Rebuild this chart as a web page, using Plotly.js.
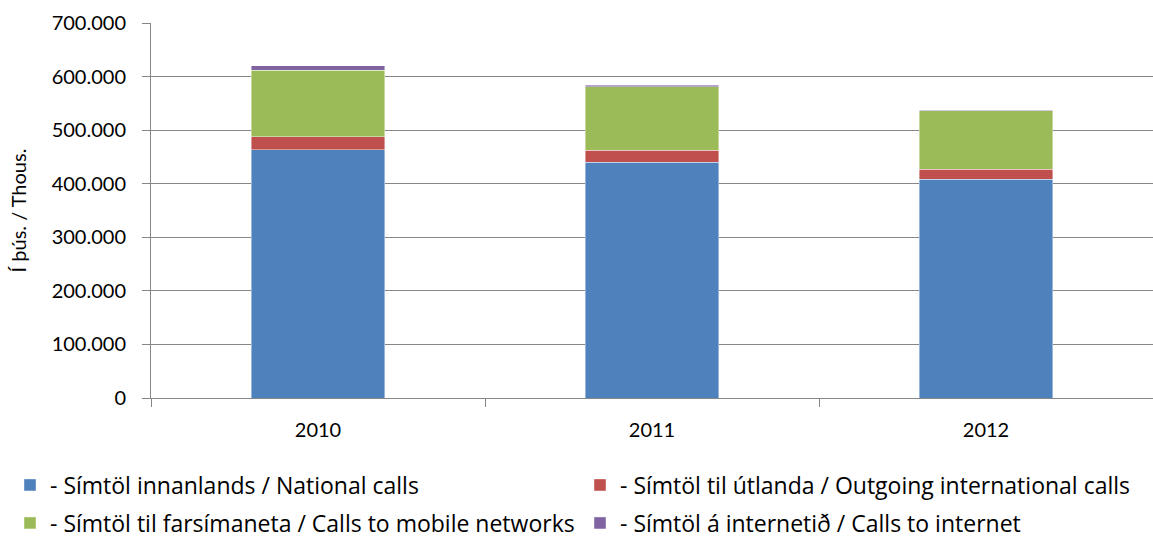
<!DOCTYPE html>
<html><head><meta charset="utf-8">
<script src="https://cdn.plot.ly/plotly-3.0.1.min.js"></script>
<style>body{margin:0;background:#fff}#c{width:1153px;height:541px}</style>
</head><body><div id="c"></div>
<script>
const years = ['2010', '2011', '2012'];
const national = [463500, 440000, 408000];
const international = [24500, 22500, 18800];
const mobile = [124000, 118500, 109500];
const internet = [8000, 2700, 1200];
const names = [
  '- Símtöl innanlands / National calls',
  '- Símtöl til útlanda / Outgoing international calls',
  '- Símtöl til farsímaneta / Calls to mobile networks',
  '- Símtöl á internetið / Calls to internet'
];
const colors = ['#4F81BD', '#C0504D', '#9BBB59', '#8064A2'];
const series = [national, international, mobile, internet];
const legends = ['legend', 'legend2', 'legend3', 'legend4'];
const FONT = 'Lato, "Open Sans", sans-serif';
const LFONT = '"Open Sans", Lato, sans-serif';

const data = series.map((vals, i) => ({
  type: 'bar', x: years, y: vals, name: names[i],
  marker: {color: colors[i], line: {color: 'rgba(255,255,255,0.6)', width: 0.7}},
  legend: legends[i], hoverinfo: 'y'
}));

function leg(xpx, ypx) {
  return {
    orientation: 'h', x: xpx / 1153, y: 1 - ypx / 541, xanchor: 'left', yanchor: 'middle',
    xref: 'container', yref: 'container',
    font: {family: LFONT, size: 23, color: '#000'},
    traceorder: 'normal', bgcolor: 'rgba(0,0,0,0)', itemwidth: 30
  };
}

const layout = {
  width: 1153, height: 541,
  margin: {l: 151, r: 0, t: 23, b: 143},
  barmode: 'stack', bargap: 0.6,
  paper_bgcolor: '#fff', plot_bgcolor: '#fff',
  font: {family: FONT, size: 20, color: '#000'},
  xaxis: {
    type: 'category', showline: true, linecolor: '#868686', linewidth: 1,
    ticks: 'outside', tickson: 'boundaries', ticklen: 8, tickcolor: '#868686',
    tickfont: {family: FONT, size: 20}, showgrid: false, ticklabelstandoff: 14
  },
  yaxis: {
    range: [0, 700000], tickvals: [0,100000,200000,300000,400000,500000,600000,700000],
    ticktext: ['0','100.000','200.000','300.000','400.000','500.000','600.000','700.000'],
    showline: true, linecolor: '#868686', linewidth: 1,
    ticks: 'outside', ticklen: 8, tickcolor: '#868686',
    showgrid: true, gridcolor: '#868686', gridwidth: 1, zeroline: false,
    tickfont: {family: FONT, size: 20}, ticklabelstandoff: 12,
    title: {text: 'Í þús. / Thous.', font: {family: FONT, size: 20}, standoff: 19}
  },
  legend: leg(10, 485),
  legend2: leg(580, 485),
  legend3: leg(10, 523),
  legend4: leg(580, 523),
  showlegend: true
};
Plotly.newPlot('c', data, layout, {displayModeBar: false, staticPlot: true});
</script></body></html>
